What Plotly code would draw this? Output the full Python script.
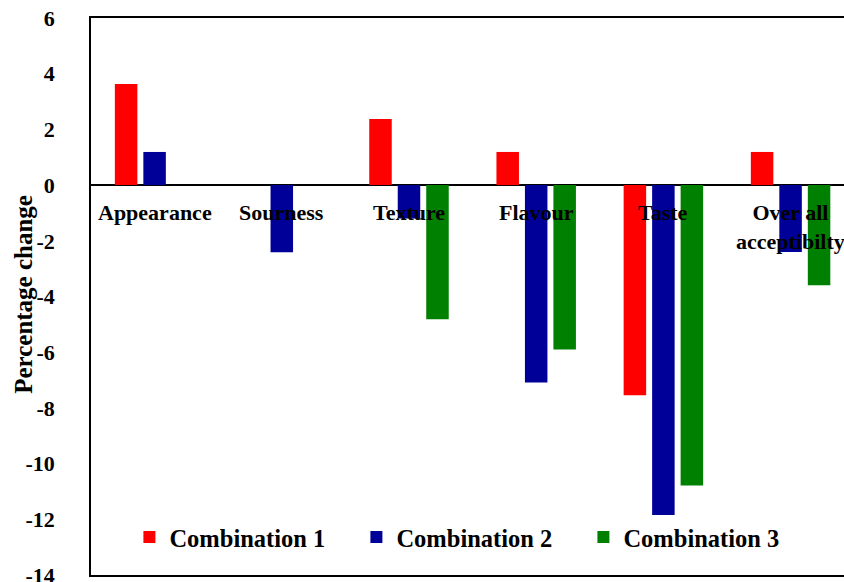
import plotly.graph_objects as go

categories = ["Appearance", "Sourness", "Texture", "Flavour", "Taste", "Over all<br>acceptibilty"]
combo1 = [3.63, 0, 2.37, 1.19, -7.55, 1.19]
combo2 = [1.19, -2.41, -1.2, -7.09, -11.85, -2.40]
combo3 = [0, 0, -4.82, -5.90, -10.79, -3.60]
series_names = ["Combination 1", "Combination 2", "Combination 3"]
colors = ["#FF0000", "#000099", "#008000"]
tick_values = [-14, -12, -10, -8, -6, -4, -2, 0, 2, 4, 6]

FONT = "Liberation Serif"
xs = list(range(len(categories)))

fig = go.Figure()
for name, vals, col in zip(series_names, [combo1, combo2, combo3], colors):
    fig.add_trace(go.Bar(x=xs, y=vals, name="<b>%s</b>" % name,
                         marker=dict(color=col, line=dict(width=0))))

for i, c in enumerate(categories):
    fig.add_annotation(x=i, y=0, xref="x", yref="y", text="<b>%s</b>" % c,
                       showarrow=False, yanchor="top", yshift=-13,
                       font=dict(family=FONT, size=22, color="black"))

fig.add_annotation(x=0, y=0.503, xref="paper", yref="paper", xanchor="center", yanchor="middle",
                   xshift=-67, text="<b>Percentage change</b>", textangle=-90, showarrow=False,
                   font=dict(family=FONT, size=25, color="black"))

fig.update_layout(
    width=844, height=582,
    margin=dict(l=91, r=0, t=18, b=7),
    paper_bgcolor="white", plot_bgcolor="white",
    barmode="group", bargap=0.328, bargroupgap=0.21,
    font=dict(family=FONT, color="black"),
    showlegend=True,
    legend=dict(orientation="h", x=0.051, y=0.068, xanchor="left", yanchor="middle",
                font=dict(family=FONT, size=24.5, color="black"),
                entrywidth=182, entrywidthmode="pixels",
                bgcolor="rgba(0,0,0,0)", itemclick=False),
    xaxis=dict(range=[-0.5, 5.42], showticklabels=False, showgrid=False, zeroline=False,
               showline=True, linecolor="black", linewidth=1.5, mirror=True, ticks="",
               automargin=False),
    yaxis=dict(range=[-14, 6], tickvals=tick_values,
               ticktext=["<b>%d</b>" % v for v in tick_values],
               showgrid=False, zeroline=True, zerolinecolor="black",
               zerolinewidth=2, showline=True, linecolor="black", linewidth=1.5, mirror=False,
               ticks="", ticklabelstandoff=30, ticklabeloverflow="allow", automargin=False,
               tickfont=dict(family=FONT, size=22, color="black")),
)

fig.write_html("out.html", post_script="document.body.style.margin='0';",
               config={"displayModeBar": False})
